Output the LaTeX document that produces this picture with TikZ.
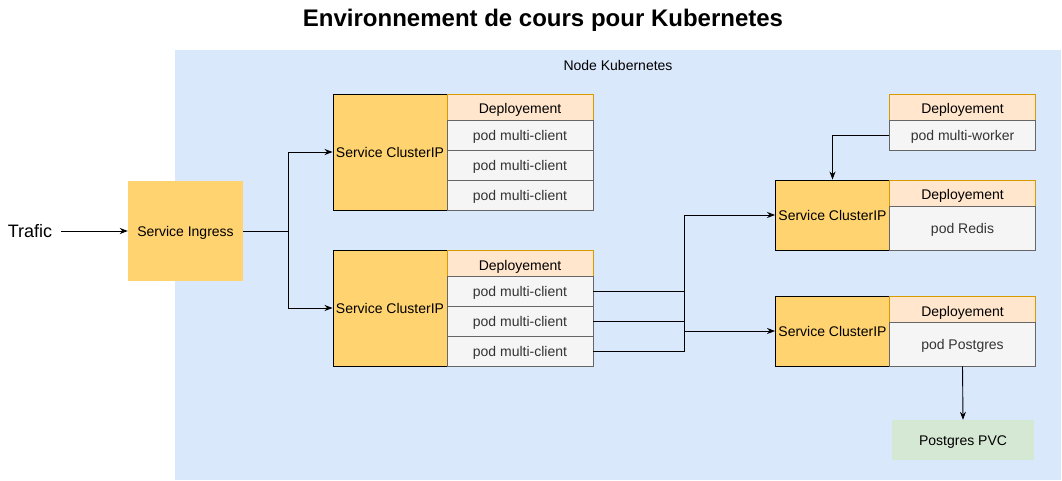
\documentclass[tikz,border=0pt]{standalone}
\usepackage{fontspec}
\setmainfont{Liberation Sans}
\usetikzlibrary{arrows.meta}
\definecolor{bgblue}{HTML}{DAE8FC}
\definecolor{svcfill}{HTML}{FFD470}
\definecolor{depfill}{HTML}{FFE6CC}
\definecolor{depline}{HTML}{D79B00}
\definecolor{podfill}{HTML}{F5F5F5}
\definecolor{podline}{HTML}{666666}
\definecolor{podtext}{HTML}{333333}
\definecolor{pvcfill}{HTML}{D5E8D4}
\tikzset{
  base/.style={inner sep=0pt, font=\fontsize{14}{16}\selectfont, align=center, text height=11pt, text depth=0pt},
  cip/.style={base, draw=black, line width=0.9pt, fill=svcfill, minimum width=114pt},
  dep/.style={base, draw=depline, line width=0.7pt, fill=depfill, minimum width=146pt, minimum height=26pt, text height=14pt},
  pod/.style={base, draw=podline, line width=0.7pt, fill=podfill, text=podtext, minimum width=146pt},
  arr/.style={-{Stealth[length=8pt,width=6pt,inset=2.5pt]}, line width=0.9pt},
  lin/.style={line width=0.9pt}
}
\begin{document}
\begin{tikzpicture}[x=1pt,y=-1pt]
\useasboundingbox (0,0) rectangle (1062,481);
\fill[white] (0,0) rectangle (1062,481);
\node[font=\fontsize{24}{28}\selectfont\bfseries, inner sep=0pt] (title) at (543,20) {Environnement de cours pour Kubernetes};
\fill[bgblue] (175,50) rectangle (1061,480);
\node[base] (nodelabel) at (618,65) {Node Kubernetes};
\node[font=\fontsize{18}{21}\selectfont, inner sep=0pt, text height=13pt, text depth=0pt] (trafic) at (30,231) {Trafic};
\node[base, fill=svcfill, minimum width=115pt, minimum height=100pt] (ing) at (185.5,231) {Service Ingress};
% group 1
\node[cip, minimum height=116pt] (c1) at (390,152) {Service ClusterIP};
\node[dep] (d1) at (520,107) {Deployement};
\node[pod, minimum height=30pt] (p11) at (520,135) {pod multi-client};
\node[pod, minimum height=30pt] (p12) at (520,165) {pod multi-client};
\node[pod, minimum height=30pt] (p13) at (520,195) {pod multi-client};
% group 2
\node[cip, minimum height=116pt] (c2) at (390,308) {Service ClusterIP};
\node[dep] (d2) at (520,263) {Deployement};
\node[pod, minimum height=30pt] (p21) at (520,291) {pod multi-client};
\node[pod, minimum height=30pt] (p22) at (520,321) {pod multi-client};
\node[pod, minimum height=30pt] (p23) at (520,351) {pod multi-client};
% worker
\node[dep] (dw) at (962.5,107) {Deployement};
\node[pod, minimum height=30pt] (pw) at (962.5,135) {pod multi-worker};
% redis
\node[cip, minimum height=70pt] (c3) at (832.5,215) {Service ClusterIP};
\node[dep] (d3) at (962.5,193) {Deployement};
\node[pod, minimum height=44pt] (pr) at (962.5,228) {pod Redis};
% postgres
\node[cip, minimum height=70pt] (c4) at (832.5,331) {Service ClusterIP};
\node[dep] (d4) at (962.5,309) {Deployement};
\node[pod, minimum height=44pt] (pp) at (962.5,344) {pod Postgres};
\node[base, fill=pvcfill, minimum width=142pt, minimum height=40pt] (pvc) at (963,440) {Postgres PVC};
% connectors
\coordinate (tstart) at (61,231);
\coordinate (j1) at (288,231);
\coordinate (j2) at (684,0);
\draw[arr] (tstart) -- (ing.west);
\draw[arr] (ing.east) -- (j1) |- (c1.west);
\draw[arr] (ing.east) -- (j1) |- (c2.west);
\draw[arr] (p23.east) -- (p23.east -| j2) -- (j2 |- c3.west) -- (c3.west);
\draw[arr] (p21.east) -- (p21.east -| j2) -- (j2 |- c4.west) -- (c4.west);
\draw[lin] (p22.east) -- (p22.east -| j2);
\draw[arr] (pw.west) -| (c3.north);
\draw[arr] (pp.south) -- (pvc.north);
\end{tikzpicture}
\end{document}
